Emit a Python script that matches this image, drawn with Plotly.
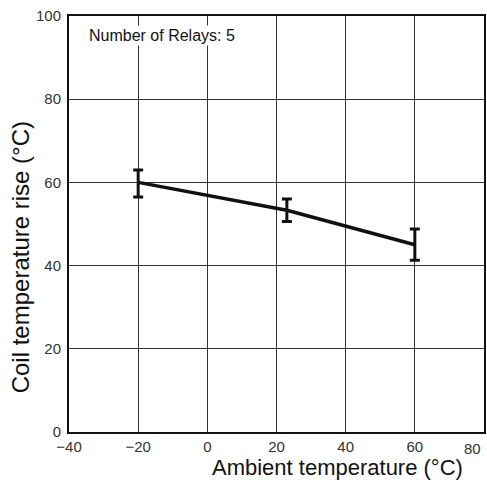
import plotly.graph_objects as go

ambient = [-20, 23, 60]
rise = [60, 53.3, 45]
err_plus = [3.0, 2.7, 3.8]
err_minus = [3.5, 2.7, 3.7]

x_ticks = [-40, -20, 0, 20, 40, 60, 80]
y_ticks = [0, 20, 40, 60, 80, 100]

font = "Liberation Sans, Arial, Helvetica, sans-serif"

x_text = [("\u2212" + str(-v)) if v < 0 else str(v) for v in x_ticks]
last_label = x_text[-1]
x_text[-1] = ""

fig = go.Figure()
fig.add_trace(go.Scatter(
    x=ambient, y=rise, mode="lines",
    line=dict(color="#111111", width=3.5),
    error_y=dict(type="data", array=err_plus, arrayminus=err_minus,
                 color="#111111", thickness=3, width=5),
    showlegend=False,
))

fig.update_layout(
    width=487, height=486,
    margin=dict(l=69, r=3, t=16, b=54, autoexpand=False),
    paper_bgcolor="white", plot_bgcolor="white",
    font=dict(family=font, color="#222222", size=15),
    xaxis=dict(range=[-40, 80], tickvals=x_ticks, ticktext=x_text,
               showgrid=True, gridcolor="#333333", gridwidth=1.3,
               showline=True, linecolor="#111111", linewidth=2, mirror=True,
               ticks="", zeroline=False, tickfont=dict(size=15, color="#333333"),
               ticklabelstandoff=0, automargin=False),
    yaxis=dict(range=[0, 100], tickvals=y_ticks,
               showgrid=True, gridcolor="#333333", gridwidth=1.3,
               showline=True, linecolor="#111111", linewidth=2, mirror=True,
               ticks="", zeroline=False, tickfont=dict(size=15, color="#333333"),
               ticklabelstandoff=3, automargin=False),
    annotations=[
        dict(text=last_label, xref="x", yref="paper",
             x=x_ticks[-1], y=0, xanchor="right", yanchor="top",
             xshift=-1, yshift=-6, showarrow=False,
             font=dict(size=15, color="#333333")),
        dict(text="Number of Relays: 5", xref="paper", yref="paper",
             x=0.044, y=0.952, xanchor="left", yanchor="middle",
             showarrow=False, font=dict(size=16, color="#111111"),
             bgcolor="white"),
        dict(text="Ambient temperature (\u00b0C)", xref="paper", yref="paper",
             x=0.954, y=-0.0865, xanchor="right", yanchor="middle",
             showarrow=False, font=dict(size=22, color="#111111")),
        dict(text="Coil temperature rise (\u00b0C)", xref="paper", yref="paper",
             x=-0.118, y=0.42, xanchor="center", yanchor="middle",
             textangle=-90, showarrow=False,
             font=dict(size=24, color="#111111")),
    ],
)

fig.write_html("out.html", config={"displayModeBar": False},
               post_script="document.body.style.margin='0';")
